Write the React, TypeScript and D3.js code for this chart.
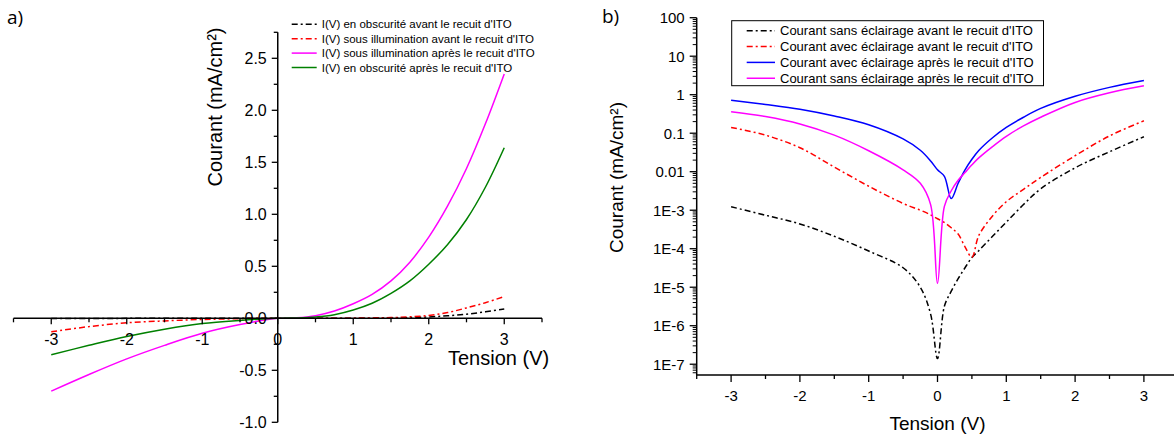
import React from 'react';
import * as d3 from 'd3';

// ---------- Panel a) linear I(V) ----------
const leftV = [-3, -2.5, -2, -1.5, -1, -0.5, 0, 0.25, 0.5, 0.75, 1, 1.25, 1.5, 1.75, 2, 2.25, 2.5, 2.75, 3];
const leftDarkBefore = [-0.0013, -0.001, -0.0007, -0.0004, -0.0002, -0.0001, 0, 0.00002, 0.00005, 0.0002, 0.0005, 0.0012, 0.003, 0.007, 0.013, 0.024, 0.04, 0.062, 0.09];
const leftIllumBefore = [-0.13, -0.08, -0.043, -0.025, -0.011, -0.004, 0, 0.0003, 0.0005, 0.001, 0.0016, 0.0035, 0.007, 0.014, 0.028, 0.055, 0.1, 0.15, 0.21];
const leftIllumAfter = [-0.7, -0.54, -0.39, -0.26, -0.144, -0.06, 0, 0.005, 0.025, 0.07, 0.14, 0.23, 0.36, 0.54, 0.78, 1.08, 1.44, 1.87, 2.35];
const leftDarkAfter = [-0.35, -0.26, -0.175, -0.105, -0.05, -0.02, 0, 0.003, 0.012, 0.035, 0.08, 0.145, 0.24, 0.36, 0.52, 0.71, 0.95, 1.26, 1.64];
const leftLegend = [
  "I(V) en obscurité avant le recuit d'ITO",
  "I(V) sous illumination avant le recuit d'ITO",
  "I(V) sous illumination après le recuit d'ITO",
  "I(V) en obscurité après le recuit d'ITO",
];
const leftXTicks = [-3, -2, -1, 0, 1, 2, 3];
const leftYTicks = [-1, -0.5, 0, 0.5, 1, 1.5, 2, 2.5];

// ---------- Panel b) log |I|(V) ----------
const rightV = [-3, -2.5, -2, -1.5, -1, -0.5, -0.25, -0.1, 0, 0.1, 0.2, 0.3, 0.4, 0.5, 0.6, 0.8, 1, 1.25, 1.5, 2, 2.5, 3];
const rightDarkBefore = [1.23e-3, 7.4e-4, 4.4e-4, 2.1e-4, 8.7e-5, 3.2e-5, 1.0e-5, 2.0e-6, 1.4e-7, 3.2e-6, 7.9e-6, 1.66e-5, 3.2e-5, 5.9e-5, 8.9e-5, 2.1e-4, 4.9e-4, 1.4e-3, 3.6e-3, 0.0126, 0.033, 0.081];
const rightIllumBefore = [0.141, 0.089, 0.042, 0.0132, 4.2e-3, 1.5e-3, 1.0e-3, 7.6e-4, 6.0e-4, 4.8e-4, 3.5e-4, 2.4e-4, 1.12e-4, 6.0e-5, 2.2e-4, 7.1e-4, 1.66e-3, 3.5e-3, 7.1e-3, 0.026, 0.085, 0.21];
const rightIllumAfter = [0.72, 0.56, 0.42, 0.28, 0.166, 0.071, 0.036, 0.019, 0.0112, 7.6e-3, 2.0e-3, 5.0e-3, 0.0112, 0.021, 0.0355, 0.076, 0.141, 0.26, 0.44, 0.91, 1.55, 2.34];
const rightDarkAfter = [0.36, 0.27, 0.174, 0.089, 0.035, 0.0112, 5.0e-3, 1.4e-3, 1.26e-5, 1.26e-3, 3.2e-3, 6.0e-3, 9.5e-3, 0.0151, 0.0229, 0.045, 0.083, 0.155, 0.26, 0.63, 1.12, 1.7];
const rightLegend = [
  "Courant sans éclairage avant le recuit d'ITO",
  "Courant avec éclairage avant le recuit d'ITO",
  "Courant avec éclairage après le recuit d'ITO",
  "Courant sans éclairage après le recuit d'ITO",
];
const rightXTicks = [-3, -2, -1, 0, 1, 2, 3];
const rightYTicks = [1e-7, 1e-6, 1e-5, 1e-4, 1e-3, 0.01, 0.1, 1, 10, 100];
const rightYLabels = ['1E-7', '1E-6', '1E-5', '1E-4', '1E-3', '0.01', '0.1', '1', '10', '100'];

const FONT = "'Liberation Sans', Arial, sans-serif";
const DASHDOT = '6,3,2,3';

export default function App() {
  // ---- left scales
  const xL = d3.scaleLinear().domain([-3.5, 3.5]).range([13.5, 542]);
  const yL = d3.scaleLinear().domain([-1, 2.75]).range([422.3, 32.3]);
  const lineL = (vals: number[]) =>
    d3.line<number>().x((_, i) => xL(leftV[i])).y((d) => yL(d)).curve(d3.curveCatmullRom.alpha(0.5))(vals) || '';
  const leftSeries = [
    { vals: leftDarkBefore, color: '#000000', dash: DASHDOT },
    { vals: leftIllumBefore, color: '#ff0000', dash: DASHDOT },
    { vals: leftIllumAfter, color: '#ff00ff', dash: undefined },
    { vals: leftDarkAfter, color: '#008000', dash: undefined },
  ];
  const x0 = xL(0);
  const y0 = yL(0);
  const leftXMinor = d3.range(-3.5, 3.51, 0.5);
  const leftYMinor = d3.range(-1, 2.751, 0.25);

  // ---- right scales
  const xR = d3.scaleLinear().domain([-3.5, 3.5]).range([696.7, 1178.3]);
  const yR = d3.scaleLog().domain([Math.pow(10, -7.28), 100]).range([375, 17.7]);
  const lineR = (vals: number[]) =>
    d3.line<number>().x((_, i) => xR(rightV[i])).y((d) => yR(d)).curve(d3.curveCatmullRom.alpha(0.5))(vals) || '';
  const rightSeries = [
    { vals: rightDarkBefore, color: '#000000', dash: DASHDOT },
    { vals: rightIllumBefore, color: '#ff0000', dash: DASHDOT },
    { vals: rightIllumAfter, color: '#0000ff', dash: undefined },
    { vals: rightDarkAfter, color: '#ff00ff', dash: undefined },
  ];
  const rightYMinor: number[] = [];
  for (let e = -8; e <= 1; e++) {
    for (let m = 2; m <= 9; m++) {
      const v = m * Math.pow(10, e);
      if (v >= Math.pow(10, -7.28) && v <= 100) rightYMinor.push(v);
    }
  }
  const rightXMinor = d3.range(-3.5, 3.51, 0.5);
  const axR = xR(-3.5);
  const ayR = yR.range()[0];

  return (
    <svg width={1174} height={436} style={{ position: 'absolute', left: 0, top: 0, background: '#fff' }} fontFamily={FONT}>
      <rect x={0} y={0} width={1174} height={436} fill="#fff" />
      {/* ===== Panel a ===== */}
      <text x={7} y={24} fontSize={19} fill="#000" fontFamily="'Open Sans', sans-serif">a)</text>

      {leftSeries.map((s, i) => (
        <path key={'l' + i} d={lineL(s.vals)} fill="none" stroke={s.color} strokeWidth={1.5} strokeDasharray={s.dash} />
      ))}

      {/* x axis */}
      <line x1={xL(-3.5)} x2={xL(3.5)} y1={y0} y2={y0} stroke="#000" strokeWidth={1.5} />
      {leftXMinor.map((v) => {
        const major = Math.abs(v - Math.round(v)) < 1e-6;
        return <line key={'lxt' + v} x1={xL(v)} x2={xL(v)} y1={y0} y2={y0 + (major ? 6 : 4)} stroke="#000" strokeWidth={1.3} />;
      })}
      {leftXTicks.map((v) => (
        <text key={'lxl' + v} x={xL(v)} y={y0 + 27} fontSize={16} textAnchor="middle" fill="#000">{v}</text>
      ))}
      {/* y axis */}
      <line x1={x0} x2={x0} y1={yL(-1)} y2={yL(2.75)} stroke="#000" strokeWidth={1.5} />
      {leftYMinor.map((v) => {
        const major = Math.abs(v * 2 - Math.round(v * 2)) < 1e-6;
        return <line key={'lyt' + v} x1={x0} x2={x0 - (major ? 6 : 4)} y1={yL(v)} y2={yL(v)} stroke="#000" strokeWidth={1.3} />;
      })}
      {leftYTicks.map((v) => (
        <text key={'lyl' + v} x={x0 - 11} y={yL(v)} dy="0.36em" fontSize={16} textAnchor="end" fill="#000">{v.toFixed(1)}</text>
      ))}
      <text x={448} y={365} fontSize={20} fill="#000">Tension (V)</text>
      <text transform={`translate(215,107) rotate(-90)`} fontSize={20} textAnchor="middle" dy="0.35em" fill="#000">Courant (mA/cm²)</text>

      {/* legend a */}
      {leftLegend.map((t, i) => {
        const yy = 24.3 + i * 14.4;
        const s = leftSeries[i];
        return (
          <g key={'lg' + i}>
            <line x1={291.7} x2={316.7} y1={yy} y2={yy} stroke={s.color} strokeWidth={1.5} strokeDasharray={s.dash} />
            <text x={321.7} y={yy} dy="0.36em" fontSize={11.5} fill="#000">{t}</text>
          </g>
        );
      })}

      {/* ===== Panel b ===== */}
      <text x={602} y={23} fontSize={19} fill="#000" fontFamily="'Open Sans', sans-serif">b)</text>

      {rightSeries.map((s, i) => (
        <path key={'r' + i} d={lineR(s.vals)} fill="none" stroke={s.color} strokeWidth={1.5} strokeDasharray={s.dash} />
      ))}

      <line x1={axR} x2={axR} y1={ayR} y2={yR(100)} stroke="#000" strokeWidth={1.5} />
      <line x1={axR} x2={xR(3.5)} y1={ayR} y2={ayR} stroke="#000" strokeWidth={1.5} />
      {rightYTicks.map((v) => (
        <line key={'ryt' + v} x1={axR} x2={axR - 7} y1={yR(v)} y2={yR(v)} stroke="#000" strokeWidth={1.3} />
      ))}
      {rightYMinor.map((v) => (
        <line key={'rym' + v} x1={axR} x2={axR - 4} y1={yR(v)} y2={yR(v)} stroke="#000" strokeWidth={1} />
      ))}
      {rightYTicks.map((v, i) => (
        <text key={'ryl' + v} x={axR - 12} y={yR(v)} dy="0.36em" fontSize={15} textAnchor="end" fill="#000">{rightYLabels[i]}</text>
      ))}
      {rightXMinor.map((v) => {
        const major = Math.abs(v - Math.round(v)) < 1e-6;
        return <line key={'rxt' + v} x1={xR(v)} x2={xR(v)} y1={ayR} y2={ayR + (major ? 7 : 4)} stroke="#000" strokeWidth={1.3} />;
      })}
      {rightXTicks.map((v) => (
        <text key={'rxl' + v} x={xR(v)} y={ayR + 26} fontSize={15} textAnchor="middle" fill="#000">{v}</text>
      ))}
      <text x={xR(0)} y={430} fontSize={19} textAnchor="middle" fill="#000">Tension (V)</text>
      <text transform={`translate(616.7,177.5) rotate(-90)`} fontSize={19} textAnchor="middle" dy="0.35em" fill="#000">Courant (mA/cm²)</text>

      {/* legend b */}
      <rect x={731.7} y={20.7} width={311.8} height={65} fill="#fff" stroke="#000" strokeWidth={1} />
      {rightLegend.map((t, i) => {
        const yy = 30.7 + i * 15.85;
        const s = rightSeries[i];
        return (
          <g key={'rg' + i}>
            <line x1={746.7} x2={775} y1={yy} y2={yy} stroke={s.color} strokeWidth={1.5} strokeDasharray={s.dash} />
            <text x={780} y={yy} dy="0.36em" fontSize={13} fill="#000">{t}</text>
          </g>
        );
      })}
    </svg>
  );
}
